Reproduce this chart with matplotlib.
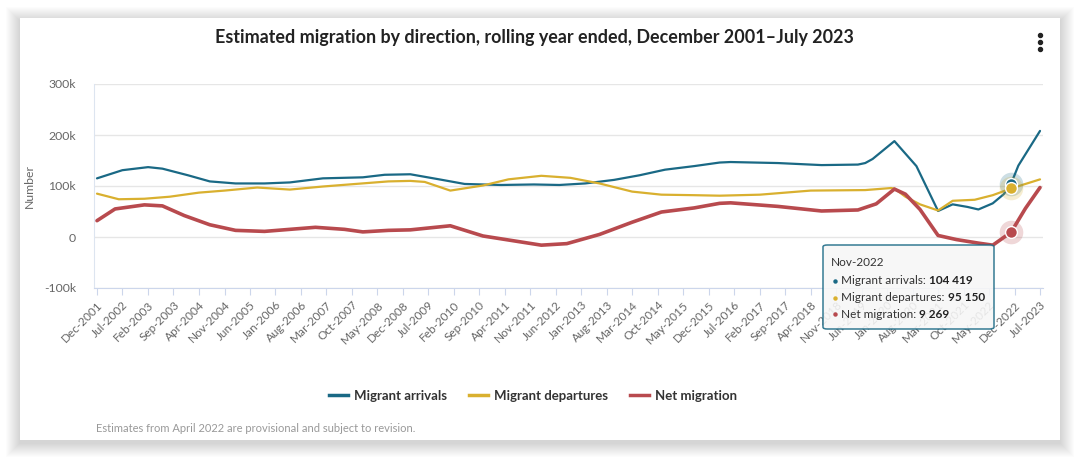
import pandas as pd
import matplotlib.pyplot as plt
from matplotlib.patches import FancyBboxPatch, Rectangle
from matplotlib.lines import Line2D
from matplotlib.text import Annotation
from matplotlib.ticker import FuncFormatter

plt.rcParams['font.family'] = ['Lato', 'DejaVu Sans']

# values (thousands), rolling year ended month
arrivals_months = ['2001-12', '2002-07', '2003-02', '2003-06', '2004-01', '2004-07', '2005-02',
                   '2005-10', '2006-05', '2007-02', '2008-01', '2008-07', '2009-02', '2009-10',
                   '2010-05', '2011-03', '2011-12', '2012-07', '2013-02', '2013-10', '2014-05',
                   '2014-12', '2015-08', '2016-03', '2016-06', '2017-07', '2018-07', '2019-05',
                   '2019-07', '2019-09', '2020-03', '2020-09', '2021-03', '2021-07', '2021-11',
                   '2022-02', '2022-06', '2022-09', '2022-11', '2023-01', '2023-07']
arrivals = [115, 131, 137, 134, 121, 109, 105,
            105, 107, 115, 117, 122, 123, 113,
            104, 102, 103, 102, 105, 112, 121,
            132, 139, 146, 147, 145, 141, 142,
            145, 153, 188, 139, 51, 64, 59,
            54, 66, 84, 104.419, 140, 208]

departures_months = ['2001-12', '2002-06', '2003-01', '2003-08', '2004-04', '2004-11', '2005-08',
                     '2006-05', '2007-02', '2007-11', '2008-08', '2009-02', '2009-06', '2010-01',
                     '2010-10', '2011-05', '2012-02', '2012-10', '2013-06', '2014-03', '2014-11',
                     '2015-08', '2016-03', '2017-02', '2018-04', '2019-07', '2020-02', '2020-03',
                     '2020-06', '2020-10', '2021-03', '2021-07', '2022-01', '2022-06', '2022-11',
                     '2023-07']
departures = [85, 74, 75, 79, 87, 91, 97,
              93, 99, 104, 109, 110, 108, 91,
              101, 113, 120, 116, 105, 89, 83,
              82, 81, 83, 91, 92, 96, 95,
              79, 64, 52, 71, 73, 82, 95.150,
              113]

net_months = ['2001-12', '2002-05', '2003-01', '2003-06', '2003-12', '2004-07', '2005-02',
              '2005-10', '2006-05', '2006-12', '2007-08', '2008-01', '2008-08', '2009-02',
              '2010-01', '2010-10', '2012-02', '2012-09', '2013-06', '2014-03', '2014-11',
              '2015-08', '2016-03', '2016-06', '2017-07', '2018-07', '2019-05', '2019-10',
              '2020-03', '2020-06', '2020-10', '2021-03', '2021-08', '2022-02', '2022-06',
              '2022-11', '2023-03', '2023-07']
net = [32, 55, 63, 61, 42, 24, 13,
       11, 15, 19, 15, 10, 13, 14,
       22, 2, -16, -13, 5, 29, 49,
       57, 66, 67, 60, 51, 53, 65,
       94, 84, 54, 3, -5, -12, -16,
       9.269, 56, 97]

series_names = ['Migrant arrivals', 'Migrant departures', 'Net migration']
series_colors = ['#1a6985', '#d9b02f', '#b84a4e']
hover_month = '2022-11'
hover_label = 'Nov-2022'
hover_values = ['104 419', '95 150', '9 269']

W, H = 1080, 458
fig = plt.figure(figsize=(W / 100, H / 100), dpi=100)
fig.patch.set_facecolor('white')

def fx(px):
    return px / W

def fy(py):
    return 1 - py / H

# card with soft shadow (a bit heavier below)
cx0, cx1, cy0, cy1 = 20, 1060, 18, 440
for i in range(14, 0, -1):
    fig.add_artist(Rectangle((fx(cx0 - i), fy(cy1 + i + 3)), fx(cx1 - cx0 + 2 * i), (cy1 - cy0 + 2 * i) / H,
                             transform=fig.transFigure, facecolor='#000000', alpha=0.011,
                             edgecolor='none', zorder=-20))
fig.add_artist(Rectangle((fx(cx0), fy(cy1)), fx(cx1 - cx0), (cy1 - cy0) / H,
                         transform=fig.transFigure, facecolor='white', edgecolor='none', zorder=-10))

ax = fig.add_axes([fx(94), fy(288), fx(1043 - 94), (288 - 84) / H])
ax.set_facecolor('white')

lines_data = [(arrivals_months, arrivals), (departures_months, departures), (net_months, net)]
widths = [1.6, 1.6, 2.6]
for (months, vals), name, col, lw in zip(lines_data, series_names, series_colors, widths):
    x = pd.to_datetime(months)
    ax.plot(x, [v * 1000 for v in vals], color=col, lw=lw, label=name, zorder=3,
            solid_joinstyle='round', solid_capstyle='round')

# hover markers at Nov-2022
hx = pd.to_datetime(hover_month)
for (months, vals), col in zip(lines_data, series_colors):
    v = vals[months.index(hover_month)] * 1000
    ax.plot([hx], [v], 'o', ms=17, color=col, alpha=0.22, mec='none', zorder=4)
    ax.plot([hx], [v], 'o', ms=8.5, color=col, mec='white', mew=1, zorder=5)

ax.set_ylim(-100000, 300000)
ax.set_xlim(pd.to_datetime('2001-12-01') - pd.Timedelta(days=25),
            pd.to_datetime('2023-07-01') + pd.Timedelta(days=25))
ax.set_yticks([-100000, 0, 100000, 200000, 300000])
ax.yaxis.set_major_formatter(FuncFormatter(lambda v, p: '0' if v == 0 else f'{int(v / 1000)}k'))
ax.grid(axis='y', color='#e6e6e6', lw=1)
ax.set_axisbelow(True)

ticks = pd.date_range('2001-12-01', '2023-07-01', freq='7MS')
ax.set_xticks(ticks)
ax.set_xticklabels([t.strftime('%b-%Y') for t in ticks], rotation=45, ha='right',
                   rotation_mode='anchor', color='#666666', fontsize=8.5)
ax.tick_params(axis='x', length=5, color='#ccd6eb', pad=3)
ax.tick_params(axis='y', length=0, labelcolor='#666666', labelsize=8.8, pad=13)

for s in ['top', 'right']:
    ax.spines[s].set_visible(False)
ax.spines['left'].set_color('#dde5f0')
ax.spines['bottom'].set_color('#ccd6eb')

ax.set_ylabel('Number', color='#666666', fontsize=8.8)
ax.yaxis.set_label_coords((35 - 94) / (1043 - 94), 0.5)

fig.text(fx(534), fy(37), 'Estimated migration by direction, rolling year ended, December 2001\u2013July 2023',
         ha='center', va='center', fontsize=12.9, fontweight='bold', color='#222222')

# menu dots
for yy in [35, 42, 49]:
    fig.add_artist(Line2D([fx(1040)], [fy(yy)], marker='o', ms=2.9, color='#222222',
                          transform=fig.transFigure))

handles = [Line2D([], [], color=c, lw=2.5) for c in series_colors]
leg = fig.legend(handles, series_names, loc='center', bbox_to_anchor=(fx(533), fy(396)),
                 ncol=3, frameon=False, handlelength=1.4, handletextpad=0.45, columnspacing=1.7,
                 prop={'weight': 'bold', 'size': 9.5})
for t in leg.get_texts():
    t.set_color('#333333')

fig.text(fx(96), fy(429), 'Estimates from April 2022 are provisional and subject to revision.',
         ha='left', va='center', fontsize=8, color='#999999')

# tooltip
fig.add_artist(FancyBboxPatch((fx(823), fy(329)), fx(994 - 823), (329 - 245) / H,
                              boxstyle='round,pad=0,rounding_size=0.004', transform=fig.transFigure,
                              facecolor='#f7f7f7', alpha=0.88, edgecolor=series_colors[0], lw=1.1,
                              zorder=10))
fig.text(fx(831), fy(263), hover_label, ha='left', va='center', fontsize=8.5, color='#333333', zorder=11)
for i, (name, col, val) in enumerate(zip(series_names, series_colors, hover_values)):
    yy = fy(281 + i * 16.5)
    fig.add_artist(Line2D([fx(835)], [yy], marker='o', ms=3.2, color=col, mec='none',
                          transform=fig.transFigure, zorder=11))
    lab = fig.text(fx(841), yy, name + ': ', ha='left', va='center', fontsize=8.5,
                   color='#333333', zorder=11)
    # bold value placed right after the label
    fig.add_artist(Annotation(val, xy=(1, 0.5), xycoords=lab, ha='left', va='center', fontsize=8.5,
                              fontweight='bold', color='#222222', zorder=11))

fig.savefig('out.png', dpi=100)
